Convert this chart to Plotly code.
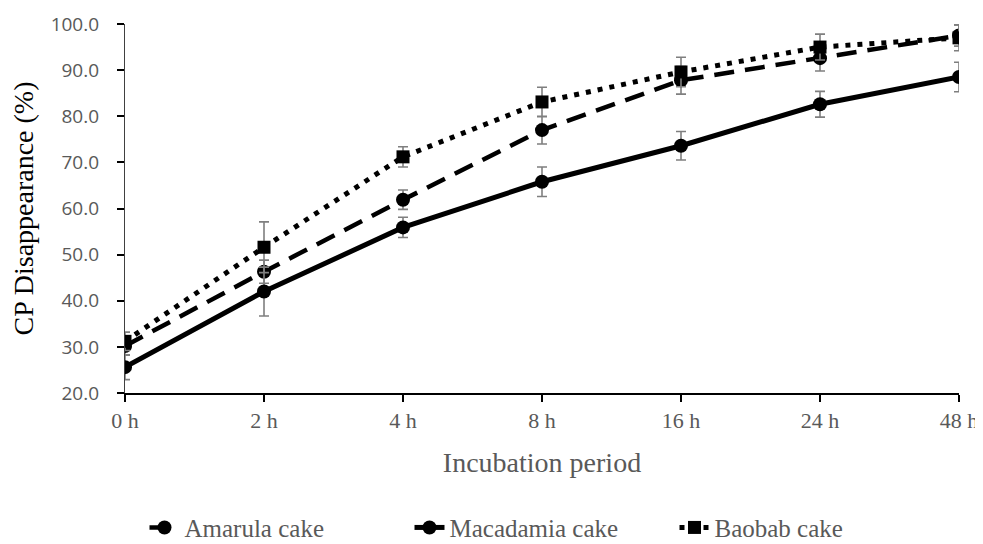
import plotly.graph_objects as go

periods = ["0 h", "2 h", "4 h", "8 h", "16 h", "24 h", "48 h"]
amarula = [30.2, 46.3, 61.9, 77.0, 87.8, 92.6, 97.5]
amarula_err = [2.0, 2.5, 2.1, 3.0, 3.0, 2.8, 2.3]
macadamia = [25.6, 42.0, 55.9, 65.8, 73.6, 82.6, 88.5]
macadamia_err = [2.7, 5.3, 2.2, 3.2, 3.1, 2.8, 3.2]
baobab = [31.2, 51.6, 71.2, 83.1, 89.6, 95.0, 97.0]
baobab_err = [2.0, 5.5, 2.2, 3.2, 3.2, 2.8, 2.8]

x_idx = list(range(len(periods)))
err_color = "#7f7f7f"
serif = "Liberation Serif"
sans = "Open Sans"

fig = go.Figure()
fig.add_trace(go.Scatter(
    x=x_idx, y=amarula, name="Amarula cake", mode="lines+markers",
    line=dict(color="black", width=4.5, dash="20px,11px"),
    marker=dict(symbol="circle", size=14, color="black"),
    error_y=dict(type="data", array=amarula_err, color=err_color, thickness=1.6, width=5),
))
fig.add_trace(go.Scatter(
    x=x_idx, y=macadamia, name="Macadamia cake", mode="lines+markers",
    line=dict(color="black", width=5),
    marker=dict(symbol="circle", size=14, color="black"),
    error_y=dict(type="data", array=macadamia_err, color=err_color, thickness=1.6, width=5),
))
fig.add_trace(go.Scatter(
    x=x_idx, y=baobab, name="Baobab cake", mode="lines+markers",
    line=dict(color="black", width=5, dash="5px,7px"),
    marker=dict(symbol="square", size=13, color="black"),
    error_y=dict(type="data", array=baobab_err, color=err_color, thickness=1.6, width=5),
))

# page body adds an 8px offset; figure sized to fit inside the window
fig.update_layout(
    width=975, height=536,
    margin=dict(l=117, r=24, t=16, b=151, autoexpand=False),
    paper_bgcolor="white", plot_bgcolor="white",
    font=dict(family=serif, color="#595959", size=16),
    showlegend=True,
    legend=dict(orientation="h", x=0.5, xanchor="center", y=-0.365, yanchor="middle",
                font=dict(size=25, color="#595959", family=serif),
                entrywidth=220, entrywidthmode="pixels", tracegroupgap=0),
)
fig.update_xaxes(
    range=[0, 6], tickmode="array", tickvals=x_idx, ticktext=periods,
    showgrid=False, zeroline=False, automargin=False,
    showline=True, linecolor="black", linewidth=2,
    ticks="outside", ticklen=7, tickcolor="black", tickwidth=2,
    tickfont=dict(size=22, color="#595959", family=serif),
    title=dict(text="Incubation period", font=dict(size=28, color="#595959", family=serif), standoff=20),
)
fig.update_yaxes(
    range=[20, 100], dtick=10, tickformat=".1f",
    showgrid=False, zeroline=False, automargin=False,
    showline=True, linecolor="#404040", linewidth=1.2,
    ticks="outside", ticklen=7, tickcolor="black", tickwidth=1.5,
    ticklabelstandoff=14,
    tickfont=dict(size=19, color="#595959", family=sans),
    title=dict(text="CP Disappearance (%)", font=dict(size=28, color="black", family=serif), standoff=14),
)

fig.write_html("out.html")
